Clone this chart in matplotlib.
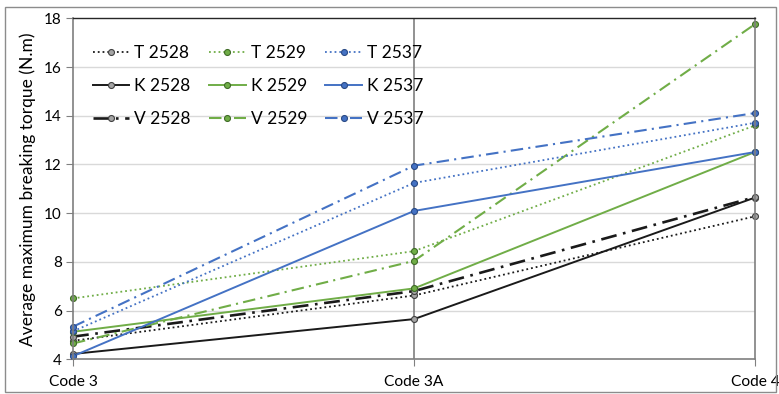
import matplotlib.pyplot as plt
from matplotlib.patches import Rectangle
import numpy as np

codes = ['Code 3', 'Code 3A', 'Code 4']

# average maximum breaking torque (N.m)
T_2528 = [4.76, 6.62, 9.87]
T_2529 = [6.50, 8.44, 13.60]
T_2537 = [5.15, 11.24, 13.71]
K_2528 = [4.22, 5.65, 10.64]
K_2529 = [5.13, 6.91, 12.51]
K_2537 = [4.13, 10.09, 12.51]
V_2528 = [4.93, 6.80, 10.66]
V_2529 = [4.65, 8.04, 17.76]
V_2537 = [5.34, 11.95, 14.11]

plt.rcParams['font.family'] = ['Lato', 'DejaVu Sans']

black = '#1a1a1a'
green = '#70AD47'
blue = '#4472C4'
mk_fill = {'2528': '#A5A5A5', '2529': green, '2537': blue}
mk_edge = {'2528': '#404040', '2529': '#3f6b26', '2537': '#2a4a85'}
colors = {'2528': black, '2529': green, '2537': blue}

series = [
    ('T 2528', T_2528), ('K 2528', K_2528), ('V 2528', V_2528),
    ('T 2529', T_2529), ('K 2529', K_2529), ('V 2529', V_2529),
    ('T 2537', T_2537), ('K 2537', K_2537), ('V 2537', V_2537),
]

fig = plt.figure(figsize=(7.79, 3.94), dpi=100)
ax = fig.add_axes([73/779, 1-359.3/394, (755-73)/779, (359.3-18.3)/394])

x = np.arange(len(codes))
for name, vals in series:
    kind, num = name.split()
    c = colors[num]
    if kind == 'T':
        ln, = ax.plot(x, vals, linestyle=':', lw=1.3, color=c)
    elif kind == 'K':
        ln, = ax.plot(x, vals, linestyle='-', lw=1.4, color=c)
    else:
        lw = 1.9 if num == '2528' else 1.5
        ln, = ax.plot(x, vals, lw=lw, color=c)
        ln.set_dashes((6, 2.5, 1, 2.5))
    ln.set_marker('o')
    ln.set_markersize(4.3)
    ln.set_markerfacecolor(mk_fill[num])
    ln.set_markeredgecolor(mk_edge[num])
    ln.set_markeredgewidth(0.8)
    ln.set_label(name)
    ln.set_clip_on(False)

ax.set_xlim(0, 2)
ax.set_ylim(4, 18)
ax.set_yticks(np.arange(4, 19, 2))
ax.set_xticks(x)
ax.set_xticklabels(codes, fontsize=11.2)
ax.tick_params(axis='y', labelsize=11, length=5, color='#808080', pad=3)
ax.tick_params(axis='x', length=5, color='#808080', pad=6)

for y in np.arange(6, 18, 2):
    ax.axhline(y, color='#D9D9D9', lw=1, zorder=0)
ax.axvline(1, color='#7f7f7f', lw=1.2, zorder=0.5)

for s in ['left', 'right', 'bottom']:
    ax.spines[s].set_color('#7f7f7f')
    ax.spines[s].set_linewidth(1.2)
ax.spines['top'].set_color('#262626')
ax.spines['top'].set_linewidth(1)

ax.set_ylabel('Average maximum breaking torque (N.m)', fontsize=12.5, labelpad=6)

ax.legend(loc='upper left', bbox_to_anchor=(84/779, 1-36/394),
          bbox_transform=fig.transFigure, ncol=3, frameon=False,
          fontsize=12.5, handlelength=2.1, handletextpad=0.3,
          columnspacing=1.05, labelspacing=1.0, borderpad=0)

fig.add_artist(Rectangle((5/779, 1-392/394), 771/779, 385/394,
                         transform=fig.transFigure, fill=False,
                         edgecolor='#8c8c8c', lw=1))

fig.savefig('out.png', dpi=100)
